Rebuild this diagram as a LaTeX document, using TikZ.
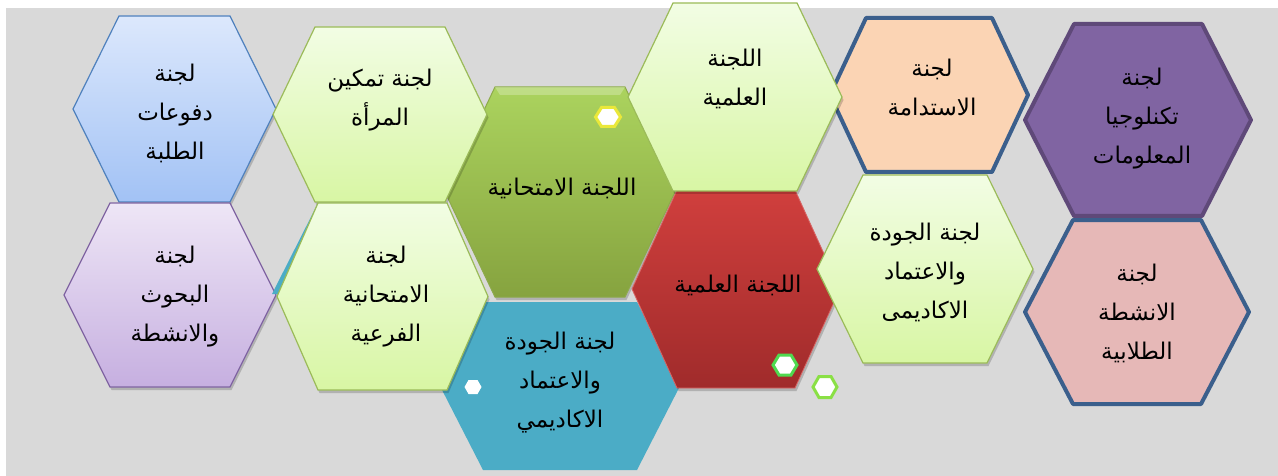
\documentclass[tikz,border=0pt]{standalone}
\usepackage{fontspec}
\newfontfamily\arabicfont[Script=Arabic]{DejaVu Sans}
\TeXXeTstate=1
\usetikzlibrary{shadows}
\definecolor{bgg}{HTML}{D9D9D9}
\definecolor{lgtop}{HTML}{F2FDE4}
\definecolor{lgbot}{HTML}{D8F6A4}
\definecolor{lgline}{HTML}{9BBB59}
\definecolor{bltop}{HTML}{DCE8FC}
\definecolor{blbot}{HTML}{A2C2F5}
\definecolor{blline}{HTML}{4F81BD}
\definecolor{pltop}{HTML}{EEE6F6}
\definecolor{plbot}{HTML}{C6AFE0}
\definecolor{plline}{HTML}{8064A2}
\definecolor{dgtop}{HTML}{ABD35E}
\definecolor{dgbot}{HTML}{86A33F}
\definecolor{dgline}{HTML}{8DAA4B}
\definecolor{rdtop}{HTML}{D03F3D}
\definecolor{rdbot}{HTML}{A02B2B}
\definecolor{teal}{HTML}{4BACC6}
\definecolor{peach}{HTML}{FBD4B4}
\definecolor{navy}{HTML}{3B5F8C}
\definecolor{itfill}{HTML}{8064A2}
\definecolor{itline}{HTML}{5F4979}
\definecolor{pink}{HTML}{E6B8B7}
\definecolor{yel}{HTML}{EAE83A}
\definecolor{grn}{HTML}{4FD94F}
\definecolor{lgrn}{HTML}{8AE045}
\newcommand\hex[6]{\path[#6] (#1-#3,#2) -- (#1-#4,#2-#5) -- (#1+#4,#2-#5) -- (#1+#3,#2) -- (#1+#4,#2+#5) -- (#1-#4,#2+#5) -- cycle;}
\newcommand\AR[1]{\beginR #1\endR}
\tikzset{
  shad/.style={drop shadow={shadow xshift=1.5pt,shadow yshift=-3pt,opacity=0.18,fill=black}},
  lgreen/.style={shad,draw=lgline,line width=1.2pt,top color=lgtop,bottom color=lgbot},
  txt/.style={font=\arabicfont\fontsize{23}{39}\selectfont,align=center,text=black,inner sep=0pt},
  small/.style={fill=white,line width=3pt}
}
\begin{document}
\begin{tikzpicture}[x=1pt,y=-1pt]
\useasboundingbox (0,0) rectangle (1278,476);
\fill[white] (0,0) rectangle (1278,476);
\fill[bgg] (6,8) rectangle (1278,476);
% left column
\hex{174.5}{109}{101.5}{55.5}{93}{shad,draw=blline,line width=1.2pt,top color=bltop,bottom color=blbot}
\hex{170}{295}{106}{60}{92}{shad,draw=plline,line width=1.2pt,top color=pltop,bottom color=plbot}
% teal strip and teal hexagon
\fill[teal] (318,203) -- (326,203) -- (279,294) -- (272,294) -- cycle;
\hex{560}{386}{120}{77}{84}{fill=teal}
% dark green centre
\hex{560}{192}{115}{65}{105}{shad,draw=dgline,line width=1pt,top color=dgtop,bottom color=dgbot}
\fill[white,opacity=0.25] (495,87) -- (625,87) -- (620,95) -- (500,95) -- cycle;
% light green second column
\hex{380}{114.5}{107}{65}{87.5}{lgreen}
\hex{382.5}{296.5}{105.5}{64.5}{93.5}{lgreen}
% red
\hex{736}{289}{104}{59}{99}{shad,draw=rdtop!80!white,line width=0.8pt,top color=rdtop,bottom color=rdbot}
% peach
\hex{929}{95}{99}{63}{77}{draw=navy,line width=4pt,fill=peach,line join=round}
% light green third column
\hex{735}{97}{107}{62}{94}{lgreen}
\hex{925}{269}{108}{62}{94}{lgreen}
% right column
\hex{1138}{120}{113}{64}{96}{draw=itline,line width=4pt,fill=itfill,line join=round}
\hex{1137}{312}{112}{64}{92}{draw=navy,line width=4pt,fill=pink,line join=round}
% small decorative hexagons
\hex{608}{117}{12.5}{6.5}{9.5}{small,draw=yel}
\hex{473}{387}{8.5}{4.5}{7}{fill=white}
\hex{785}{365}{12}{6}{10}{small,draw=grn}
\hex{825}{387}{12}{6}{10.5}{small,draw=lgrn}
% texts
\node[txt] (t1) at (175,113) {\AR{لجنة}\\\AR{دفوعات}\\\AR{الطلبة}};
\node[txt] (t2) at (175,297) {\AR{لجنة}\\\AR{البحوث}\\\AR{والانشطة}};
\node[txt] (t3) at (380,100) {\AR{لجنة تمكين}\\\AR{المرأة}};
\node[txt] (t4) at (386,297) {\AR{لجنة}\\\AR{الامتحانية}\\\AR{الفرعية}};
\node[txt] (t5) at (562,188) {\AR{اللجنة الامتحانية}};
\node[txt] (t6) at (560,383) {\AR{لجنة الجودة}\\\AR{والاعتماد}\\\AR{الاكاديمي}};
\node[txt] (t7) at (735,79) {\AR{اللجنة}\\\AR{العلمية}};
\node[txt] (t8) at (738,285) {\AR{اللجنة العلمية}};
\node[txt] (t9) at (932,88) {\AR{لجنة}\\\AR{الاستدامة}};
\node[txt] (t10) at (925,272) {\AR{لجنة الجودة}\\\AR{والاعتماد}\\\AR{الاكاديمى}};
\node[txt] (t11) at (1142,119) {\AR{لجنة}\\\AR{تكنلوجيا}\\\AR{المعلومات}};
\node[txt] (t12) at (1137,313) {\AR{لجنة}\\\AR{الانشطة}\\\AR{الطلابية}};
\end{tikzpicture}
\end{document}
